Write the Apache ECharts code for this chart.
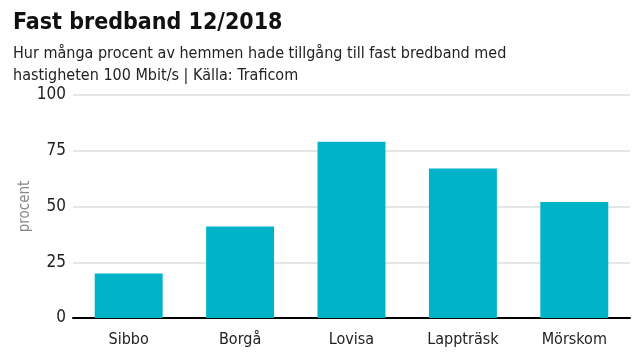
<!DOCTYPE html>
<html><head><meta charset="utf-8">
<script src="https://cdn.jsdelivr.net/npm/echarts@6/dist/echarts.min.js"></script>
<style>html,body{margin:0;padding:0;background:#fff}#c{width:640px;height:360px}</style>
</head><body><div id="c"></div>
<script>
const categories = ["Sibbo", "Borgå", "Lovisa", "Lappträsk", "Mörskom"];
const values = [20, 41, 79, 67, 52];
const yTicks = [0, 25, 50, 75, 100];
const FONT = '"DejaVu Sans Condensed", sans-serif';
const chart = echarts.init(document.getElementById('c'));
chart.setOption({
  animation: false,
  textStyle: { fontFamily: FONT },
  title: [
    { text: 'Fast bredband 12/2018', left: 8, top: 7,
      textStyle: { fontFamily: FONT, fontSize: 23, fontWeight: 'bold', color: '#111' } },
    { text: 'Hur många procent av hemmen hade tillgång till fast bredband med\nhastigheten 100 Mbit/s | Källa: Traficom', left: 8, top: 38,
      textStyle: { fontFamily: FONT, fontSize: 16, fontWeight: 'normal', color: '#222', lineHeight: 22 } }
  ],
  grid: { left: 73, right: 10, top: 95, bottom: 42 },
  xAxis: {
    type: 'category', data: categories,
    axisLine: { lineStyle: { color: '#000', width: 2 } },
    axisTick: { show: false },
    axisLabel: { color: '#222', fontSize: 16, margin: 14, fontFamily: FONT }
  },
  yAxis: {
    type: 'value', min: 0, max: 100, interval: 25,
    name: 'procent', nameLocation: 'middle', nameGap: 40, nameRotate: 90,
    nameMoveOverlap: false,
    nameTextStyle: { color: '#888', fontSize: 15, fontFamily: FONT },
    axisLine: { show: false }, axisTick: { show: false },
    axisLabel: { color: '#222', fontSize: 17, margin: 7, fontFamily: FONT,
      formatter: v => yTicks.includes(v) ? String(v) : '' },
    splitLine: { lineStyle: { color: '#e6e6e6', width: 2 } }
  },
  series: [{
    type: 'bar', data: values, barCategoryGap: '39%',
    itemStyle: { color: '#00b3c8' }
  }]
});
</script></body></html>
